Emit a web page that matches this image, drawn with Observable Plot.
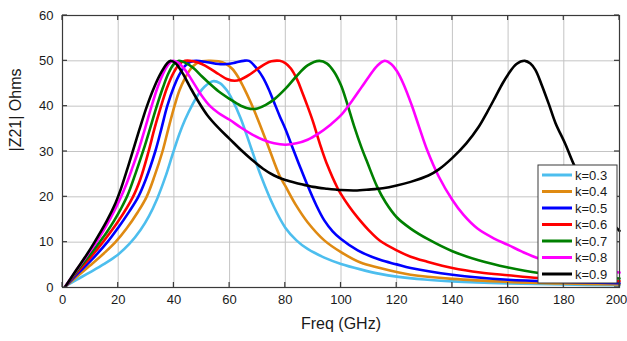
<!DOCTYPE html>
<html><head><meta charset="utf-8">
<script src="https://cdn.jsdelivr.net/npm/d3@7"></script>
<script src="https://cdn.jsdelivr.net/npm/@observablehq/plot@0.6"></script>
<style>body{margin:0;background:#fff;}</style>
</head><body><div id="chart"></div>
<script>
const freqTicks = [0,20,40,60,80,100,120,140,160,180,200];
const zTicks = [0,10,20,30,40,50,60];
const labels = ["k=0.3","k=0.4","k=0.5","k=0.6","k=0.7","k=0.8","k=0.9"];
const colors = ["#4DBEEE","#DF8A12","#0000FF","#FF0000","#008000","#FF00FF","#000000"];
const xLabel = "Freq (GHz)";
const yLabel = "|Z21| Ohms";

// [freq GHz, |Z21| ohms]
const k03 = [[1,0.3],[5,1.7],[10,3.4],[15,5.2],[20,7.3],[24,9.6],[28,12.7],[31,15.7],[34,19.6],[37,24.5],[39.6,29.5],[42,33.9],[44,37],[46.7,40.4],[49,42.8],[51,44.3],[54,45.5],[56.5,45.1],[59,43.5],[61,41.4],[64,37.3],[67.6,31],[71.2,24.7],[75.9,17.8],[80,13.2],[84,10.4],[88,8.5],[94,6.6],[100,5.2],[107,4.0],[114,3.0],[120,2.4],[130,1.75],[140,1.35],[160,0.9],[180,0.65],[200,0.5]];
const k04 = [[1,0.2],[5,2.3],[10,4.9],[15,7.6],[19,10],[23,13],[27,16.6],[30.2,20],[33,24.5],[35.9,30],[38,35],[40.2,40],[42,43.5],[44,46.2],[46,48.2],[48,49.4],[50,49.9],[53,50],[56,49.9],[58.5,49.4],[61,48.2],[63,46.5],[65,44.2],[67.6,40.8],[70,37.3],[73.6,31.6],[75.9,27.8],[78,24.6],[80,22.4],[84,18],[88,14.4],[94,10.4],[100,7.8],[107,5.5],[114,4.3],[120,3.4],[125,2.8],[140,1.9],[160,1.25],[180,0.9],[200,0.7]];
const k05 = [[1,0.2],[5,2.8],[10,5.8],[16.1,10],[20,13.2],[24,16.8],[27.2,20],[30,24],[33.3,30],[35.5,35],[37.6,40],[40,44.3],[42,47],[44,48.9],[46,49.8],[48,50],[52,49.7],[56,49.3],[59,49.3],[62,49.6],[65,50],[67,50],[69.9,48.2],[72,46.3],[74,43.8],[76,40.8],[78,37.8],[80,35],[83,30.2],[85.5,26.3],[88,22.5],[91,18.3],[94,14.8],[97,12.4],[100,10.7],[106,8.2],[114,6.1],[120,5.1],[125,4.3],[140,2.8],[160,1.7],[180,1.25],[200,0.95]];
const k06 = [[1,0.2],[5,3.2],[10,6.6],[14.5,10],[20,14.6],[25.3,20],[28,24],[30.9,30],[33,35],[35.4,40],[37.5,44],[40,47.5],[42,49.3],[44,50],[47,49.9],[50,49.3],[53,48.3],[56,47.1],[59,46],[61.8,45.6],[64,45.9],[67,46.9],[70,48.2],[73,49.4],[75,49.9],[78,50],[80,49.5],[82,48.3],[84.3,45.8],[86,43.2],[88.1,39.8],[90,36.5],[91.5,33.5],[93,30.6],[95.1,27],[98.7,22],[100,20.6],[103,17.8],[106,15.4],[110,12.6],[114,10.3],[120,8.2],[125,6.8],[131,5.7],[140,4.3],[150,3.3],[160,2.7],[171,2.1],[185,1.7],[200,1.4]];
const k07 = [[1,0.2],[5,3.5],[10,7.3],[13.3,10],[16,12.3],[18.5,14.7],[21,17.4],[23.4,20.4],[26.3,25.3],[29.1,30.4],[31.4,35],[33.6,39.5],[36,44],[38,47.2],[40,49.3],[41.8,50],[44,49.6],[47,48.4],[50,46.6],[52.1,45.4],[56,43.3],[60,41.6],[64,40.1],[67.5,39.4],[70,39.5],[73,40.3],[76,41.5],[80,43.8],[84,46.6],[88,49],[92.2,50],[95,49.4],[97.5,47.6],[100,44.6],[102,41],[104.7,35.6],[107.4,30.8],[109.5,27.5],[113,22.2],[116,18.8],[120,15.5],[125,13],[131.4,10.6],[140,8],[149.4,6],[160,4.4],[171,3.2],[185,2.5],[200,2]];
const k08 = [[1,0.2],[5,3.8],[10,8.1],[12.2,10],[17,15],[20.5,19.3],[23,22.9],[25.2,26.6],[27.4,30.5],[29.6,35],[31.8,39.6],[34,43.9],[36,47],[38,49.2],[39.6,50],[41.5,49.6],[44,48],[47,45.2],[50,42.3],[53,40],[56,38.5],[60,37],[64,35.3],[68,33.8],[72,32.6],[76,31.8],[80,31.5],[84,31.8],[88,32.6],[92,34],[96,35.8],[100,38],[104,41.2],[107.4,44.2],[110,46.5],[113,48.9],[115.6,50],[118,49.3],[120,47.8],[122.5,44.8],[125.4,40.2],[128,35.5],[131,30.2],[135,24.6],[140,19.3],[144,16],[149,13],[155,10.8],[160,9.4],[165,7.9],[171,6.4],[180,5],[190,4],[200,3.3]];
const k09 = [[1,0.2],[5,3.9],[8,6.6],[11.3,9.8],[16,14.8],[19,18.6],[21,21.8],[23,25.6],[25,29.6],[27.6,34.8],[30.2,39.8],[33,44.3],[35.5,47.5],[37.5,49.4],[38.8,50],[40.5,49.5],[43,47.4],[46,44],[49,40.8],[52,38],[56,35.2],[60,32.8],[64,30.4],[68,28.2],[72,26.2],[76,24.7],[80,23.7],[85,22.9],[90,22.2],[95,21.8],[100,21.5],[105,21.4],[110,21.6],[115,21.9],[120,22.5],[125,23.3],[131.4,24.7],[135,26],[140,28.6],[145,31.8],[149.4,35.4],[152.5,38.7],[155.4,42],[158,45],[160,47],[163,49.3],[166,50],[168,49.4],[169.8,48],[172,44.8],[174.6,40.5],[177,36.3],[180.5,31.7],[183.7,27],[188,21.8],[194,16.5],[200,12.5]];

const series = [k03,k04,k05,k06,k07,k08,k09];
const rows = series.flatMap((s,i) => s.map(([f,z]) => ({f, z, k: labels[i]})));
const lastTick = freqTicks[freqTicks.length - 1];

const chart = Plot.plot({
  width: 627, height: 341,
  marginLeft: 62, marginRight: 8, marginTop: 15, marginBottom: 54,
  style: {fontFamily: "'Liberation Sans', Arial, sans-serif", fontSize: "13px", background: "#fff", color: "#1a1a1a"},
  x: {domain: [0,200]},
  y: {domain: [0,60]},
  color: {domain: labels, range: colors},
  marks: [
    Plot.gridX(freqTicks, {stroke: "#c4c4c4", strokeOpacity: 1, strokeWidth: 1}),
    Plot.gridY(zTicks, {stroke: "#c4c4c4", strokeOpacity: 1, strokeWidth: 1}),
    Plot.axisX(freqTicks.filter(t => t !== lastTick), {tickSize: 0, tickPadding: 7, label: null, fontSize: 13}),
    Plot.axisX([lastTick], {tickSize: 0, tickPadding: 7, label: null, fontSize: 13, dx: -3}),
    Plot.axisY(zTicks, {tickSize: 0, tickPadding: 9, label: null, fontSize: 13}),
    Plot.line(rows, {x: "f", y: "z", stroke: "k", z: "k", strokeWidth: 2.6, curve: "catmull-rom"}),
    Plot.frame({stroke: "#3a3a3a", strokeWidth: 1.2}),
    Plot.text([xLabel], {frameAnchor: "bottom", dy: 41, fontSize: 16, text: d => d}),
    Plot.text([yLabel], {frameAnchor: "left", dx: -47, rotate: -90, fontSize: 16, text: d => d})
  ]
});

document.getElementById("chart").appendChild(chart);

// inward ticks using the plot's scales
const sx = chart.scale("x"), sy = chart.scale("y");
const svg = d3.select(chart);
const x0 = sx.apply(0), x1 = sx.apply(200), y0 = sy.apply(0), y1 = sy.apply(60);
const tg = svg.append("g").attr("stroke", "#3a3a3a").attr("stroke-width", 1.2);
for (const t of freqTicks) {
  const px = sx.apply(t);
  tg.append("line").attr("x1", px).attr("x2", px).attr("y1", y0).attr("y2", y0 - 5);
  tg.append("line").attr("x1", px).attr("x2", px).attr("y1", y1).attr("y2", y1 + 5);
}
for (const t of zTicks) {
  const py = sy.apply(t);
  tg.append("line").attr("x1", x0).attr("x2", x0 + 5).attr("y1", py).attr("y2", py);
  tg.append("line").attr("x1", x1).attr("x2", x1 - 5).attr("y1", py).attr("y2", py);
}

// legend
const lg = svg.append("g").attr("font-family", "'Liberation Sans', Arial, sans-serif").attr("font-size", 13).attr("text-anchor", "start");
lg.append("rect").attr("x", 538).attr("y", 165).attr("width", 79).attr("height", 118)
  .attr("fill", "#fff").attr("stroke", "#3a3a3a").attr("stroke-width", 1);
labels.forEach((l, i) => {
  const yy = 175 + i * 16.5;
  lg.append("line").attr("x1", 542).attr("x2", 572).attr("y1", yy).attr("y2", yy)
    .attr("stroke", colors[i]).attr("stroke-width", 3);
  lg.append("text").attr("x", 575).attr("y", yy).attr("dy", "0.35em").attr("text-anchor", "start").attr("fill", "#1a1a1a").text(l);
});
</script>
</body></html>
